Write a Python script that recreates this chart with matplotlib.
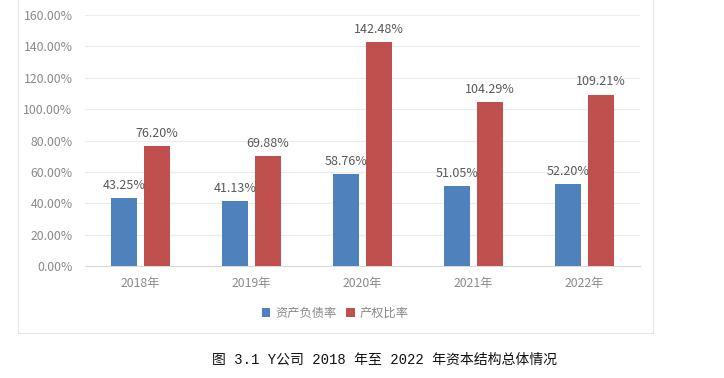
import matplotlib
matplotlib.use("Agg")
import matplotlib.pyplot as plt
from matplotlib.patches import Rectangle
import numpy as np

plt.rcParams['font.family'] = ['Noto Sans CJK SC', 'DejaVu Sans']

years = ["2018年", "2019年", "2020年", "2021年", "2022年"]
debt_ratio = [43.25, 41.13, 58.76, 51.05, 52.20]
equity_ratio = [76.20, 69.88, 142.48, 104.29, 109.21]
series_names = ["资产负债率", "产权比率"]
yticks = [0, 20, 40, 60, 80, 100, 120, 140, 160]
caption = "图 3.1 Y公司 2018 年至 2022 年资本结构总体情况"

blue = "#4F81BD"
red = "#C0504D"

fig = plt.figure(figsize=(7.24, 3.78), dpi=100)
# chart frame
fig.patches.append(Rectangle((18/724, 1-333/378), (653-18)/724, 333/378 + 0.01,
                             transform=fig.transFigure, fill=False,
                             edgecolor="#e6e6e6", linewidth=0.8))
ax = fig.add_axes([85/724, 1-266/378, 555/724, 251/378])

x = np.arange(len(years))
w = 0.235
off = 0.145
b1 = ax.bar(x - off, debt_ratio, w, color=blue, label=series_names[0], zorder=3)
b2 = ax.bar(x + off, equity_ratio, w, color=red, label=series_names[1], zorder=3)

for rects, vals in ((b1, debt_ratio), (b2, equity_ratio)):
    for r, v in zip(rects, vals):
        ax.text(r.get_x() + r.get_width()/2, v + 4, f"{v:.2f}%", ha="center", va="bottom",
                fontsize=9, color="#595959")

ax.set_xlim(-0.5, len(years) - 0.5)
ax.set_ylim(0, 160)
ax.set_yticks(yticks)
ax.set_yticklabels([f"{t:.2f}%" for t in yticks])
ax.set_xticks(x)
ax.set_xticklabels(years)
ax.tick_params(axis="both", length=0, colors="#8a8a8a", labelsize=8.8)
ax.tick_params(axis="y", pad=9)
ax.tick_params(axis="x", pad=8)
ax.grid(axis="y", color="#ececec", linewidth=0.8, zorder=0)
for s in ["top", "right", "left"]:
    ax.spines[s].set_visible(False)
ax.spines["bottom"].set_color("#d9d9d9")
ax.spines["bottom"].set_linewidth(0.8)

leg = ax.legend(loc="center", bbox_to_anchor=(335/724, 1-313/378), bbox_transform=fig.transFigure,
                ncol=2, frameon=False, fontsize=8.8, handlelength=0.7, handleheight=0.7,
                handletextpad=0.4, columnspacing=0.8)
for t in leg.get_texts():
    t.set_color("#8a8a8a")

fig.text(384/724, 1-360/378, caption, ha="center", va="center", fontsize=10, color="#111111",
         family=['Liberation Mono', 'Noto Sans CJK SC'])

fig.savefig("out.png", dpi=100)
